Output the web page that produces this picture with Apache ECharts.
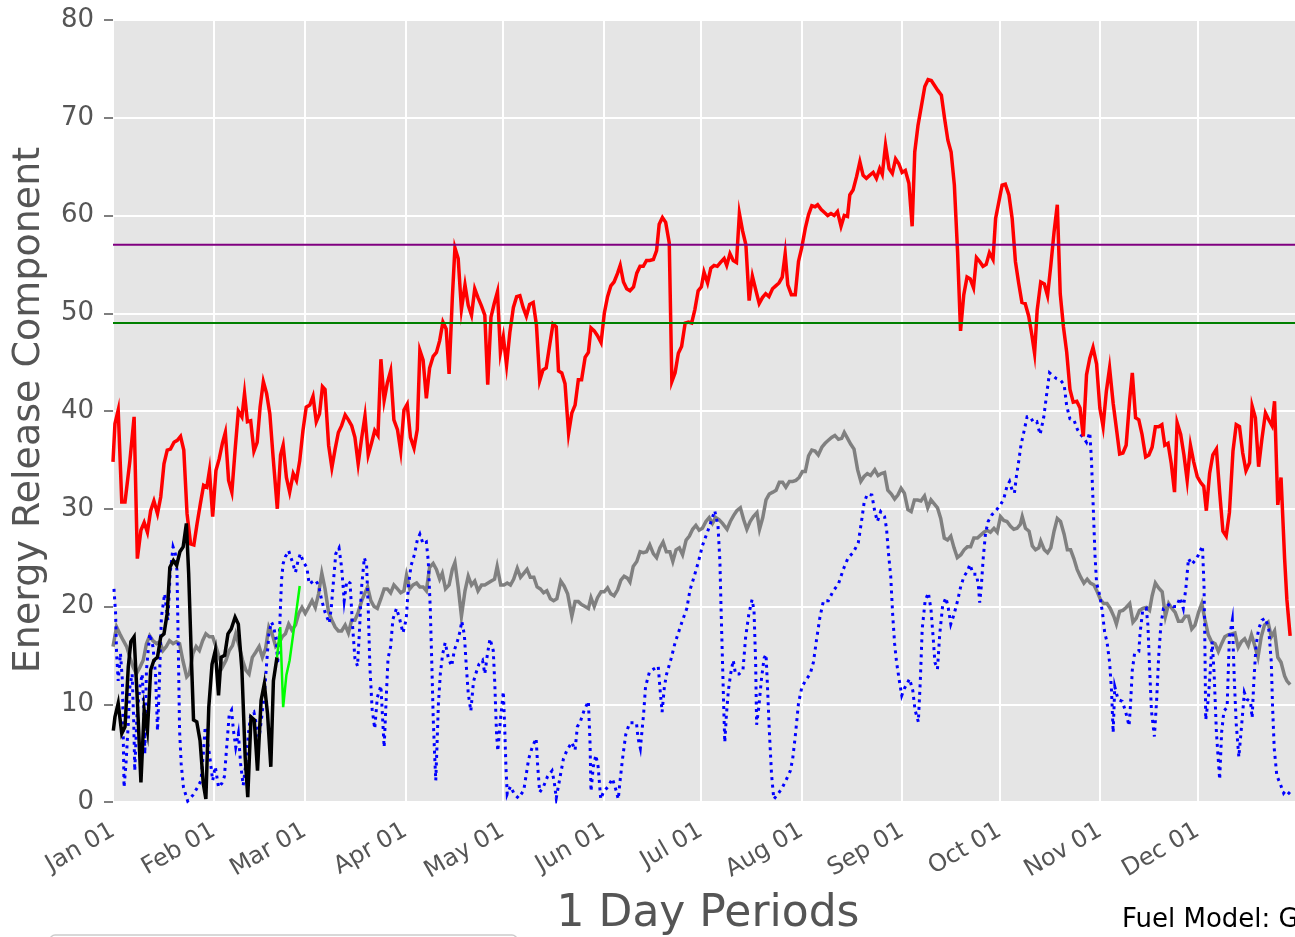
<!DOCTYPE html>
<html>
<head>
<meta charset="utf-8">
<script src="https://cdn.jsdelivr.net/npm/echarts@6/dist/echarts.min.js"></script>
<style>
  html, body { margin: 0; padding: 0; background: #fff; }
  #chart { width: 1295px; height: 937px; }
</style>
</head>
<body>
<div id="chart"></div>
<script>
// x = day of year (0 = Jan 01), y = ERC
const monthStarts = [0, 31, 59, 90, 120, 151, 181, 212, 243, 273, 304, 334]
const monthLabels = ['Jan 01', 'Feb 01', 'Mar 01', 'Apr 01', 'May 01', 'Jun 01',
  'Jul 01', 'Aug 01', 'Sep 01', 'Oct 01', 'Nov 01', 'Dec 01']

// historic maximum
const maxErc = [
  [0,34.8],[0.6,38.7],[1.6,40.1],[2.7,30.7],[3.7,30.7],[5.2,34.9],[6.5,39.4],[7.5,24.9],[8.6,27.8],[9.6,28.6],
  [10.6,27.6],[11.6,29.8],[12.6,30.8],[13.7,29.5],[14.7,31.2],[15.7,34.6],[16.7,36.0],[17.7,36.1],[18.8,36.8],[19.8,37.0],
  [20.8,37.4],[21.8,36.0],[22.8,29.5],[23.9,26.4],[24.9,26.3],[25.9,28.5],[26.9,30.5],[27.9,32.4],[28.9,32.2],[29.7,33.9],
  [30.7,29.2],[31.7,33.9],[32.7,35.1],[33.7,36.7],[34.6,37.8],[35.6,32.9],[36.6,31.7],[37.6,36.0],[38.6,40.0],[39.7,39.4],
  [40.5,41.8],[41.4,38.9],[42.4,39.0],[43.4,35.9],[44.4,36.8],[45.3,40.4],[46.3,43.0],[47.3,41.8],[48.3,39.7],[49.3,35.3],
  [50.6,30.0],[51.6,35.5],[52.4,36.5],[53.4,33.2],[54.4,31.7],[55.5,33.6],[56.5,32.9],[57.5,34.9],[58.5,38.0],[59.5,40.4],
  [60.6,40.6],[61.6,41.5],[62.6,38.9],[63.6,39.7],[64.5,42.5],[65.3,42.2],[66.4,36.5],[67.4,34.2],[68.4,36.1],[69.4,37.8],
  [70.4,38.5],[71.5,39.6],[72.5,39.1],[73.5,38.5],[74.5,37.3],[75.5,34.6],[76.6,37.3],[77.6,39.5],[78.6,35.5],[79.6,36.7],
  [80.6,38.0],[81.6,37.5],[82.5,45.3],[83.5,41.1],[84.5,42.9],[85.5,44.1],[86.5,39.1],[87.6,38.1],[88.6,35.9],[89.6,40.1],
  [90.6,40.7],[91.6,37.3],[92.7,36.2],[93.7,38.1],[94.5,46.2],[95.5,45.2],[96.5,41.3],[97.5,44.4],[98.6,45.6],[99.6,46.0],
  [100.6,47.2],[101.6,49.1],[102.6,48.4],[103.5,43.8],[104.5,51.6],[105.3,56.7],[106.3,55.6],[107.3,50.4],[108.4,52.9],[109.4,50.8],
  [110.4,49.8],[111.4,52.5],[112.4,51.6],[113.4,50.8],[114.5,49.8],[115.4,42.7],[116.4,49.6],[117.4,51.0],[118.4,52.2],[119.3,46.0],
  [120.2,47.6],[121.2,44.7],[122.2,48.0],[123.3,50.6],[124.3,51.7],[125.3,51.8],[126.3,50.6],[127.3,49.7],[128.3,50.9],[129.4,51.1],
  [130.4,48.8],[131.4,43.1],[132.4,44.2],[133.4,44.4],[134.5,46.8],[135.5,48.9],[136.5,48.6],[137.2,44.1],[138.2,43.9],[139.2,42.8],
  [140.3,37.7],[141.3,39.8],[142.3,40.6],[143.3,43.2],[144.3,43.2],[145.4,45.5],[146.4,46.0],[147.2,48.5],[148.2,48.2],[149.2,47.7],
  [150.3,47.0],[151.3,50.0],[152.3,51.7],[153.3,52.8],[154.3,53.2],[155.4,54.1],[156.2,54.9],[157.2,53.2],[158.2,52.5],[159.2,52.3],
  [160.3,52.7],[161.3,54.1],[162.3,54.8],[163.3,54.8],[164.3,55.4],[165.3,55.4],[166.4,55.5],[167.4,56.4],[168.2,59.1],[169.2,59.8],
  [170.2,59.3],[171.3,57.2],[172.1,43.0],[173.1,43.9],[174.1,45.9],[175.1,46.6],[176.2,49.0],[177.2,49.1],[178.2,49.0],[179.2,50.4],
  [180.2,52.3],[181.2,52.7],[182.0,54.2],[183.1,53.1],[184.1,54.6],[185.1,54.9],[186.1,54.8],[187.1,55.2],[188.2,55.6],[189.0,54.9],
  [190.0,56.1],[191.0,55.4],[192.0,55.2],[192.9,60.2],[193.9,58.4],[194.9,57.0],[195.9,51.3],[196.9,53.8],[198.0,52.3],[199.0,51.0],
  [200.0,51.6],[201.0,52.0],[202.0,51.7],[203.1,52.5],[204.1,52.8],[205.1,53.1],[206.1,53.7],[207.0,56.1],[207.8,52.9],[208.9,51.9],
  [210.1,51.9],[211.1,55.3],[212.1,56.7],[213.2,58.7],[214.2,60.1],[215.2,61.0],[216.2,60.9],[217.0,61.1],[218.1,60.6],[219.1,60.3],
  [220.1,60.0],[221.1,60.2],[222.1,60.0],[223.1,60.4],[224.2,58.9],[225.2,60.0],[226.2,59.9],[226.9,62.1],[227.9,62.6],[229.0,64.0],
  [230.0,65.5],[231.0,64.1],[232.0,63.8],[233.0,64.1],[234.1,64.4],[235.1,63.8],[236.1,64.8],[236.9,64.2],[237.9,67.2],[239.0,64.8],
  [240.0,64.3],[241.0,65.8],[242.0,65.3],[243.0,64.4],[244.0,64.6],[245.1,63.3],[246.1,58.9],[246.9,66.5],[247.9,69.2],[248.9,71.1],
  [250.0,73.2],[251.0,73.9],[252.0,73.8],[253.0,73.3],[254.0,72.8],[255.1,72.3],[256.1,69.9],[257.1,67.7],[258.1,66.5],[259.1,63.1],
  [260.1,56.2],[261.0,48.2],[262.0,51.9],[263.0,53.7],[264.0,53.5],[265.0,52.6],[265.9,55.7],[266.9,55.3],[267.9,54.8],[268.9,55.0],
  [269.9,56.2],[271.0,55.5],[271.8,59.7],[272.8,61.4],[273.8,63.1],[274.8,63.2],[275.9,62.1],[276.9,59.7],[277.9,55.3],[278.9,53.1],
  [279.9,51.1],[280.9,51.0],[282.0,49.7],[283.0,47.7],[283.8,45.9],[284.6,50.3],[285.7,53.2],[286.8,53.0],[287.8,51.8],[288.8,54.9],
  [289.8,58.3],[290.8,61.1],[291.7,52.0],[292.7,48.6],[293.7,46.0],[294.7,42.2],[295.7,40.9],[296.8,41.0],[297.8,40.3],[298.8,37.4],
  [299.8,43.7],[300.8,45.4],[301.8,46.5],[302.9,44.8],[303.9,40.3],[304.9,38.4],[305.9,42.0],[306.9,44.4],[308.0,40.8],[309.0,38.2],
  [310.0,35.6],[311.0,35.7],[312.0,36.5],[313.1,41.2],[313.9,43.9],[314.9,39.3],[315.9,39.1],[316.9,37.6],[318.0,35.3],[319.0,35.5],
  [320.0,36.3],[321.0,38.4],[322.0,38.4],[323.0,38.6],[323.9,36.5],[324.9,36.7],[325.9,34.6],[326.9,31.7],[327.7,38.8],[328.8,37.6],
  [329.8,35.5],[330.8,32.9],[331.8,36.5],[332.8,34.8],[333.9,33.3],[334.9,32.7],[335.9,32.3],[336.7,29.8],[337.7,33.6],[338.7,35.5],
  [339.8,36.1],[340.8,31.7],[341.8,27.7],[342.8,27.2],[343.8,29.6],[344.9,35.9],[345.9,38.6],[346.9,38.4],[347.9,35.7],[348.9,33.9],
  [350.0,34.7],[350.8,40.5],[351.8,39.3],[352.8,34.3],[353.8,37.1],[354.9,39.8],[355.9,39.1],[356.9,38.5],[357.7,41.0],[358.7,30.4],
  [359.7,33.2],[360.8,24.9],[361.5,20.7],[362.5,17.0]
]

// historic average
const avgErc = [
  [0,15.9],[1.1,17.9],[2.1,17.2],[3.2,16.5],[4.2,15.9],[5.2,14.8],[6.2,13.8],[7.2,13.1],[8.3,13.8],[9.3,14.5],
  [10.3,16.2],[11.3,17.0],[12.3,16.5],[13.4,16.2],[14.4,16.4],[15.4,15.5],[16.4,15.9],[17.4,16.5],[18.5,16.2],[19.5,16.4],
  [20.5,16.2],[21.5,14.5],[22.7,12.8],[23.5,13.1],[24.6,15.2],[25.6,15.9],[26.6,15.5],[27.6,16.5],[28.6,17.2],[29.7,16.9],
  [30.7,16.9],[31.7,15.9],[32.7,14.8],[33.7,13.8],[34.8,14.5],[35.8,15.5],[36.8,16.0],[37.8,17.2],[38.9,15.9],[39.9,14.5],
  [40.9,13.5],[41.9,13.1],[42.9,14.8],[43.9,15.3],[45.0,15.9],[46.0,14.8],[47.0,15.7],[48.0,17.9],[49.0,17.2],[50.1,15.9],
  [51.1,16.2],[52.1,16.9],[53.1,17.2],[54.1,18.2],[55.1,17.6],[56.2,18.1],[57.2,19.3],[58.2,19.9],[59.2,19.3],[60.2,19.9],
  [61.3,20.6],[62.3,19.9],[63.3,21.3],[64.3,23.4],[65.3,21.8],[66.4,19.4],[67.4,18.6],[68.4,17.9],[69.4,17.5],[70.4,17.5],
  [71.5,18.1],[72.5,17.3],[73.5,18.6],[74.5,18.6],[75.5,19.4],[76.6,20.6],[77.6,21.4],[78.4,22.0],[79.4,20.6],[80.4,20.0],
  [81.4,19.8],[82.5,20.8],[83.5,21.8],[84.5,21.8],[85.5,21.4],[86.5,22.2],[87.6,21.8],[88.6,21.4],[89.6,21.6],[90.4,23.2],
  [91.4,21.8],[92.4,22.2],[93.5,22.4],[94.5,22.0],[95.5,22.0],[96.5,21.6],[97.5,24.0],[98.6,24.4],[99.6,23.8],[100.6,22.8],
  [101.4,23.4],[102.4,21.8],[103.5,22.2],[104.5,23.8],[105.3,24.5],[106.3,22.0],[107.3,19.0],[108.4,21.6],[109.4,23.1],[110.4,22.2],
  [111.4,22.6],[112.4,21.6],[113.5,22.2],[114.5,22.2],[115.5,22.4],[116.5,22.6],[117.5,22.8],[118.3,24.1],[119.4,22.2],[120.4,22.2],
  [121.4,22.4],[122.4,22.2],[123.4,22.8],[124.5,23.9],[125.5,23.0],[126.5,23.4],[127.5,23.8],[128.5,23.0],[129.6,23.0],[130.6,22.0],
  [131.6,21.8],[132.6,21.4],[133.6,21.6],[134.7,20.8],[135.7,20.6],[136.7,20.8],[137.9,22.6],[138.9,22.1],[140.0,21.3],[141.3,19.0],
  [142.3,20.5],[143.3,20.5],[144.3,20.2],[145.4,20.0],[146.4,19.8],[147.2,20.9],[148.2,20.0],[149.2,20.9],[150.3,21.5],[151.3,21.5],
  [152.3,21.9],[153.3,21.3],[154.3,21.1],[155.4,21.7],[156.4,22.7],[157.4,23.1],[158.4,22.9],[159.2,22.5],[160.2,24.1],[161.3,24.6],
  [162.3,25.6],[163.3,25.5],[164.3,25.6],[165.3,26.3],[166.4,25.4],[167.4,25.0],[168.4,26.0],[169.4,26.6],[170.4,25.6],[171.5,25.6],
  [172.4,24.6],[173.4,25.8],[174.4,26.0],[175.4,25.3],[176.5,26.8],[177.5,27.2],[178.5,27.9],[179.5,28.3],[180.5,27.8],[181.5,28.0],
  [182.6,28.7],[183.6,29.1],[184.6,28.5],[185.6,29.1],[186.6,28.9],[187.7,28.5],[189.1,27.9],[190.1,28.7],[191.1,29.3],[192.1,29.8],
  [193.2,30.1],[194.2,28.9],[195.2,27.9],[196.2,28.7],[197.2,29.2],[198.3,29.6],[199.1,27.9],[200.1,29.1],[201.1,30.9],[202.1,31.5],
  [203.2,31.7],[204.2,31.9],[205.2,32.7],[206.2,32.7],[207.2,32.2],[208.3,32.8],[209.3,32.8],[210.3,32.9],[211.3,33.2],[212.3,33.8],
  [213.2,33.8],[214.2,35.4],[215.2,36.0],[216.2,35.9],[217.2,35.5],[218.3,36.3],[219.3,36.7],[220.3,37.0],[221.3,37.3],[222.3,37.5],
  [223.4,37.1],[224.4,37.2],[225.2,37.8],[226.2,37.2],[227.2,36.6],[228.2,36.1],[229.3,34.0],[230.3,32.8],[231.3,33.3],[232.3,33.6],
  [233.3,33.4],[234.6,34.0],[235.6,33.4],[236.6,33.6],[237.6,33.7],[238.6,31.9],[239.7,31.5],[240.7,31.0],[241.7,31.4],[242.7,32.1],
  [243.7,31.6],[244.8,29.9],[245.8,29.7],[246.8,30.9],[247.8,30.9],[248.8,30.8],[249.9,31.3],[250.9,30.1],[251.9,30.9],[252.9,30.5],
  [253.9,30.1],[254.9,29.0],[256.0,27.0],[257.0,26.8],[258.0,27.2],[259.0,26.0],[260.0,25.0],[261.1,25.3],[262.1,25.8],[263.1,26.1],
  [264.1,26.1],[265.1,27.0],[266.2,27.0],[267.2,27.3],[268.2,27.6],[269.2,27.8],[270.2,27.6],[271.3,28.0],[272.3,27.6],[273.3,29.2],
  [274.3,28.8],[275.3,28.7],[276.4,28.2],[277.4,27.9],[278.4,28.0],[279.4,28.4],[280.0,29.2],[281.0,28.0],[282.1,27.7],[283.1,26.2],
  [284.1,25.8],[285.1,26.0],[285.7,26.7],[286.8,25.8],[287.8,25.5],[288.8,26.0],[289.8,27.7],[290.8,29.0],[291.8,28.7],[292.9,27.4],
  [293.9,25.8],[294.9,25.8],[295.9,24.9],[296.9,23.8],[298.0,23.0],[299.0,22.4],[300.0,22.8],[301.0,22.4],[302.1,22.2],[303.1,21.5],
  [304.1,20.7],[305.1,20.3],[306.1,20.3],[307.1,19.8],[308.2,19.0],[309.0,18.2],[310.0,19.5],[311.0,19.6],[312.0,19.9],[313.1,20.3],
  [314.1,18.4],[315.1,18.8],[316.1,19.6],[317.1,19.8],[318.2,19.9],[319.2,19.6],[320.0,21.1],[321.0,22.4],[322.0,21.9],[323.1,21.5],
  [324.1,19.0],[325.1,20.3],[326.1,19.8],[327.1,19.4],[328.1,18.5],[329.2,18.5],[330.2,19.0],[331.2,19.0],[332.2,17.7],[333.2,18.1],
  [334.3,19.4],[335.3,20.3],[336.3,18.6],[337.3,17.1],[338.3,16.4],[339.4,16.2],[340.4,15.4],[341.4,16.2],[342.4,16.9],[343.4,17.1],
  [344.5,17.2],[345.5,17.3],[346.5,15.8],[347.5,16.4],[348.5,16.7],[349.6,16.0],[350.6,17.1],[351.6,16.0],[352.6,14.8],[353.6,16.9],
  [354.6,18.1],[355.7,18.4],[356.7,16.9],[357.7,17.5],[358.7,14.8],[359.7,14.3],[360.8,12.9],[361.5,12.4],[362.5,12.0]
]

// historic minimum
const minErc = [
  [0.3,21.8],[0.8,19.3],[1.1,15.2],[1.6,12.4],[2.3,15.2],[2.9,12.4],[3.4,1.5],[4.0,3.9],[4.7,8.0],[5.2,11.8],
  [5.9,13.1],[6.4,8.0],[6.7,3.2],[7.4,9.0],[8.3,11.8],[9.0,13.1],[9.5,9.5],[9.8,4.9],[10.3,13.5],[11.3,17.2],
  [12.3,15.9],[13.1,13.1],[13.7,7.3],[14.2,11.4],[14.9,18.9],[15.9,21.3],[16.9,18.6],[17.6,23.4],[18.5,26.1],[19.2,25.4],
  [19.7,23.7],[20.1,15.9],[20.5,7.3],[21.0,3.9],[21.7,1.5],[23.0,0.1],[24.6,0.7],[26.2,1.6],[27.1,2.2],[27.8,4.9],
  [28.4,7.7],[29.0,6.3],[29.7,4.9],[30.7,2.2],[31.5,3.6],[32.5,1.5],[33.5,1.9],[34.3,2.6],[35.1,6.0],[35.8,9.0],
  [36.5,9.4],[37.1,7.3],[37.8,5.6],[38.6,7.0],[39.3,3.9],[40.1,1.7],[40.9,3.9],[41.7,7.0],[42.4,8.9],[43.4,9.2],
  [44.1,8.0],[45.0,6.6],[45.8,8.7],[46.7,11.4],[47.3,14.1],[48.0,17.2],[48.8,18.4],[49.5,17.9],[50.3,16.5],[50.7,14.1],
  [51.3,17.6],[51.9,22.7],[52.4,24.4],[53.1,25.1],[54.1,25.7],[55.1,24.7],[56.2,23.5],[57.0,24.7],[57.7,25.4],[58.7,24.5],
  [59.7,24.0],[60.4,22.3],[61.3,22.5],[62.3,22.7],[63.3,22.2],[64.3,20.6],[65.3,19.4],[65.8,19.0],[66.6,18.3],[67.2,19.8],
  [67.9,22.6],[68.6,25.4],[69.6,26.0],[70.4,24.0],[71.2,20.6],[72.0,22.6],[73.0,22.4],[73.8,17.9],[74.5,14.7],[75.3,13.9],
  [75.9,17.5],[76.5,21.8],[77.4,25.0],[78.1,24.2],[78.6,19.8],[79.1,13.9],[79.8,9.5],[80.6,7.5],[81.4,10.7],[82.5,11.9],
  [83.0,8.7],[83.5,5.6],[84.2,11.1],[84.7,14.7],[85.5,15.9],[86.2,18.7],[87.3,19.8],[88.3,18.7],[89.3,17.3],[90.3,18.7],
  [91.0,22.2],[91.8,24.2],[92.9,25.4],[93.7,26.8],[94.5,27.4],[95.5,26.4],[96.5,26.6],[97.1,24.6],[97.7,19.8],[98.2,13.9],
  [98.6,8.7],[99.0,5.2],[99.4,2.2],[99.8,6.0],[100.2,10.0],[100.8,13.1],[101.5,15.1],[102.3,16.3],[103.3,14.7],[104.3,13.9],
  [105.1,15.5],[106.1,16.5],[106.9,17.5],[107.4,18.5],[108.2,17.1],[108.8,13.9],[109.4,11.1],[110.2,9.3],[111.0,12.3],[111.7,13.1],
  [112.7,14.1],[113.8,14.5],[114.5,13.1],[115.3,15.1],[116.1,16.7],[117.1,15.5],[117.6,11.9],[118.1,7.1],[118.5,5.2],[119.4,8.7],
  [120.2,11.3],[120.6,7.9],[121.0,3.6],[121.4,0.8],[122.4,1.6],[123.6,0.8],[124.9,0.4],[126.5,1.2],[128.0,4.4],[129.1,5.6],
  [130.3,6.5],[130.8,3.6],[131.4,1.0],[132.6,1.6],[133.8,2.6],[135.2,3.2],[135.9,2.0],[136.5,0.4],[137.7,2.6],[138.7,4.4],
  [139.8,5.3],[141.3,6.1],[142.3,5.3],[143.0,7.7],[144.0,8.3],[145.1,9.4],[146.4,10.3],[146.9,6.1],[147.2,1.1],[147.9,3.6],
  [148.7,4.8],[149.4,3.6],[150.2,0.3],[151.0,1.0],[152.5,1.6],[153.8,2.4],[155.0,1.1],[155.6,0.3],[156.1,2.0],[156.9,4.4],
  [157.9,6.9],[159.1,8.1],[161.2,8.1],[161.7,6.5],[162.4,5.5],[163.4,9.0],[164.0,11.8],[165.2,13.3],[166.5,13.6],[167.9,13.9],
  [168.5,11.4],[169.1,9.2],[169.8,11.8],[170.5,13.1],[171.9,14.7],[173.1,16.3],[174.2,17.4],[175.4,18.6],[176.7,19.8],[177.7,21.7],
  [179.0,23.1],[180.3,24.6],[181.5,26.2],[182.8,27.4],[183.8,28.3],[184.6,29.1],[185.3,29.8],[186.3,28.3],[186.9,24.6],[187.3,19.2],
  [187.7,14.3],[188.1,9.4],[188.4,6.1],[188.9,8.9],[189.5,11.4],[190.2,13.1],[191.0,14.5],[191.7,13.1],[192.8,13.1],[194.0,13.5],
  [194.8,16.8],[195.8,19.2],[196.8,20.7],[197.4,19.6],[197.9,14.3],[198.2,7.9],[198.9,9.8],[199.7,12.6],[200.5,14.7],[201.1,15.1],
  [201.5,12.2],[202.1,7.4],[202.8,2.8],[203.5,0.3],[204.5,0.7],[206.0,1.4],[207.5,2.4],[208.6,3.2],[209.3,4.4],[210.1,6.7],
  [211.1,10.1],[212.1,11.7],[213.2,12.4],[214.7,13.1],[215.7,14.3],[216.7,16.7],[217.7,18.9],[218.8,20.6],[220.3,20.6],[221.8,21.6],
  [223.4,22.3],[224.9,23.8],[226.4,25.0],[227.9,25.5],[229.5,26.5],[230.5,28.7],[231.3,30.6],[232.3,31.5],[233.7,31.4],[234.6,29.7],
  [235.4,28.7],[236.4,29.7],[237.6,29.2],[238.2,28.0],[238.8,25.5],[239.5,23.1],[240.1,19.2],[240.7,16.2],[241.3,14.3],[242.2,12.3],
  [242.9,10.9],[243.7,11.6],[245.3,12.6],[246.3,11.4],[247.0,9.4],[248.0,8.2],[248.6,12.3],[249.2,17.7],[250.1,20.6],[251.1,21.4],
  [251.9,19.7],[252.6,16.7],[253.1,14.3],[253.9,13.6],[254.6,17.2],[255.5,20.1],[256.5,20.9],[257.2,19.9],[258.0,18.2],[259.0,19.2],
  [260.1,20.6],[261.1,22.1],[262.1,23.1],[263.1,23.6],[263.9,24.3],[264.9,23.3],[265.9,23.3],[266.5,22.1],[266.9,20.4],[267.4,22.1],
  [268.0,25.0],[268.7,27.5],[269.5,28.7],[270.7,29.4],[272.1,29.9],[273.3,30.4],[274.3,31.0],[275.3,32.3],[276.1,32.8],[276.9,31.9],
  [277.6,31.6],[278.2,33.3],[278.9,34.8],[279.6,36.5],[280.4,37.7],[281.5,39.4],[282.5,39.4],[283.5,38.8],[284.5,38.9],[285.5,37.6],
  [286.6,39.3],[287.4,41.4],[288.4,43.9],[289.4,43.6],[290.6,43.3],[291.9,43.1],[292.9,42.7],[293.7,40.5],[294.7,39.2],[295.9,39.1],
  [297.0,38.1],[298.0,37.6],[299.0,37.2],[299.8,36.8],[300.8,37.8],[301.3,35.1],[301.8,30.8],[302.4,25.3],[302.9,22.4],[303.9,21.1],
  [304.7,19.4],[305.4,17.3],[306.1,16.4],[306.9,14.3],[307.5,11.4],[308.0,7.1],[308.5,11.8],[309.5,10.5],[310.8,10.3],[311.8,9.3],
  [312.9,7.8],[313.3,9.7],[313.9,13.5],[314.6,15.2],[315.9,15.4],[316.3,17.3],[317.1,19.6],[318.2,19.8],[318.7,18.1],[319.2,13.9],
  [319.8,9.3],[320.7,6.7],[321.4,10.5],[322.0,14.8],[322.7,18.1],[323.5,19.8],[324.5,20.0],[325.5,20.3],[326.5,20.0],[327.5,20.0],
  [328.6,20.9],[329.6,19.8],[330.4,21.9],[331.2,24.9],[332.2,24.3],[333.2,24.7],[334.3,25.3],[335.5,26.2],[336.0,21.9],[336.3,14.8],
  [336.5,8.4],[337.3,10.5],[338.0,13.9],[338.5,16.4],[339.1,13.1],[339.8,7.1],[340.4,4.2],[340.8,2.3],[341.4,7.1],[342.1,9.3],
  [343.1,9.7],[343.8,16.9],[344.7,18.6],[345.3,12.6],[345.9,8.0],[346.7,4.6],[347.5,7.6],[348.4,11.2],[349.2,10.5],[350.3,10.3],
  [350.8,8.6],[351.3,12.2],[352.0,16.0],[352.8,17.7],[353.8,18.6],[354.9,18.8],[355.9,17.7],[356.7,14.3],[357.1,9.7],[357.6,5.5],
  [358.4,2.7],[359.4,1.9],[360.5,0.9],[361.2,1.2],[362.5,0.8]
]

// current year
const currentErc = [
  [0.1,7.3],[0.6,8.7],[1.6,10.1],[2.7,7.0],[3.7,7.7],[4.7,13.8],[5.5,16.4],[6.5,16.9],[7.5,10.4],[8.6,2.0],
  [9.6,9.4],[10.6,7.3],[11.6,13.5],[12.6,14.5],[13.7,14.8],[14.7,16.9],[15.7,17.2],[16.7,19.3],[17.5,24.0],[18.6,24.7],
  [19.6,24.2],[20.6,25.6],[21.6,26.1],[22.6,28.5],[23.3,23.4],[24.2,14.1],[24.8,8.4],[25.8,8.2],[26.8,6.3],[27.8,1.9],
  [28.6,0.3],[29.5,9.7],[30.5,14.1],[31.5,15.5],[32.5,10.9],[33.3,14.8],[34.4,15.0],[35.4,17.2],[36.4,17.7],[37.6,18.9],
  [38.6,18.2],[39.7,13.5],[40.7,4.6],[41.5,0.5],[42.5,8.7],[43.5,8.4],[44.5,3.2],[45.6,10.4],[46.6,12.1],[47.6,9.0],
  [48.6,3.6],[49.4,12.4],[50.5,14.8]
]

// forecast
const forecastErc = [
  [50.5,14.8],[51.5,17.9],[52.4,9.7],[53.4,13.0],[54.4,14.5],[55.5,17.2],[56.5,19.6],[57.5,22.1]
]

// percentile thresholds
const thresholds = [
  { value: 57, color: '#800080' },
  { value: 49, color: '#008000' },
]

const FONT = 'DejaVu Sans'

const chart = echarts.init(document.getElementById('chart'), null, { renderer: 'canvas' })

function lineSeries(name, data, color, width, type, z) {
  return {
    name, type: 'line', data, z,
    showSymbol: false, symbol: 'none', animation: false,
    lineStyle: { color, width, type, cap: 'butt', join: 'miter' },
  }
}

const hLines = thresholds.map((t, i) => ({
  type: 'line', z: 10 + i, symbol: 'none', animation: false,
  data: [[0, t.value], [364, t.value]],
  lineStyle: { color: t.color, width: 2 },
}))

chart.setOption({
  backgroundColor: '#ffffff',
  animation: false,
  grid: { left: 113, top: 20, width: 1190, height: 782 },
  xAxis: {
    type: 'value', min: 0, max: 364,
    axisLine: { show: false },
    axisTick: { show: false, customValues: monthStarts },
    axisLabel: {
      customValues: monthStarts, rotate: 30, margin: 27,
      color: '#555', fontSize: 24, fontFamily: FONT,
      formatter: v => monthLabels[monthStarts.indexOf(v)] || '',
    },
    splitLine: { show: true, lineStyle: { color: '#ffffff', width: 2 } },
  },
  yAxis: {
    type: 'value', min: 0, max: 80, interval: 10,
    axisLine: { show: false },
    axisTick: { show: true, length: 9, lineStyle: { color: '#555', width: 1.5 } },
    axisLabel: { color: '#555', fontSize: 26, fontFamily: FONT, margin: 19 },
    splitLine: { show: true, lineStyle: { color: '#ffffff', width: 2 } },
  },
  graphic: [
    { type: 'rect', z: -10, shape: { x: 113, y: 20, width: 1190, height: 782 }, style: { fill: '#e5e5e5' }, silent: true },
    { type: 'text', x: 29, y: 410, rotation: Math.PI / 2,
      style: { text: 'Energy Release Component', fontSize: 38, fontFamily: FONT, fill: '#555', align: 'center', verticalAlign: 'middle' } },
    { type: 'text', x: 708, y: 915,
      style: { text: '1 Day Periods', fontSize: 44, fontFamily: FONT, fill: '#555', align: 'center', verticalAlign: 'middle' } },
    { type: 'text', x: 1122, y: 920,
      style: { text: 'Fuel Model: G', fontSize: 26, fontFamily: FONT, fill: '#000', align: 'left', verticalAlign: 'middle' } },
    { type: 'rect', shape: { x: 50, y: 935, width: 467, height: 30, r: 5 },
      style: { fill: 'rgba(255,255,255,0.8)', stroke: '#cccccc', lineWidth: 1.5 } },
  ],
  series: [
    lineSeries('Average', avgErc, '#808080', 3.5, 'solid', 2),
    lineSeries('Minimum', minErc, '#0000ff', 3, [3, 4.5], 3),
    lineSeries('Maximum', maxErc, '#ff0000', 3.5, 'solid', 4),
    lineSeries('Current', currentErc, '#000000', 3.5, 'solid', 5),
    lineSeries('Forecast', forecastErc, '#00ff00', 2.5, 'solid', 6),
    ...hLines,
  ],
})
</script>
</body>
</html>
